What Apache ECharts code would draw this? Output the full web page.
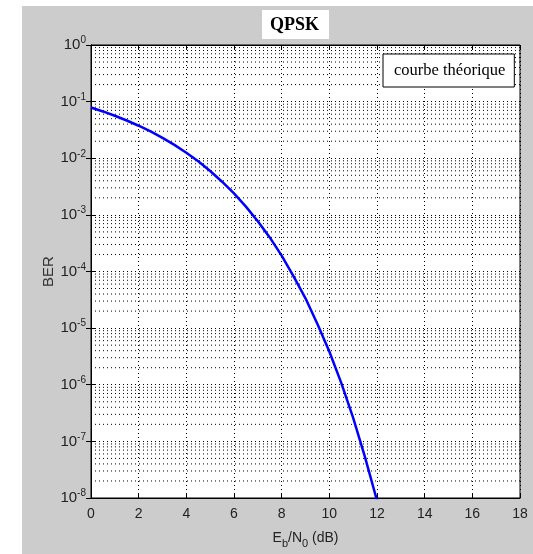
<!DOCTYPE html>
<html>
<head>
<meta charset="utf-8">
<script src="https://cdn.jsdelivr.net/npm/echarts@6/dist/echarts.min.js"></script>
<style>
	html, body { margin: 0; padding: 0; background: #fff; }
	#wrap { position: relative; width: 533px; height: 554px; }
	#back { position: absolute; left: 22px; top: 6px; right: 0; bottom: 0; background: #cccccc; }
	#chart { position: absolute; left: 0; top: 0; width: 533px; height: 554px; }
</style>
</head>
<body>
<div id="wrap">
	<div id="back"></div>
	<div id="chart"></div>
</div>
<script>
// Eb/N0 (dB)
const snrDb = [0, 0.5, 1, 1.5, 2, 2.5, 3, 3.5, 4, 4.5, 5, 5.5, 6, 6.5, 7, 7.5, 8, 8.5, 9, 9.5, 10, 10.5, 11, 11.5, 12];
const berTheory = [7.86e-2, 6.71e-2, 5.63e-2, 4.64e-2, 3.75e-2, 2.98e-2, 2.29e-2, 1.72e-2, 1.25e-2, 8.85e-3,
	5.95e-3, 3.85e-3, 2.39e-3, 1.40e-3, 7.73e-4, 4.00e-4, 1.91e-4, 8.2e-5, 3.36e-5, 1.18e-5,
	3.87e-6, 1.08e-6, 2.61e-7, 5.2e-8, 9.0e-9];
const xTicks = [0, 2, 4, 6, 8, 10, 12, 14, 16, 18];
const yDecades = [0, -1, -2, -3, -4, -5, -6, -7, -8];
const minorSteps = [2, 3, 4, 5, 6, 7, 8, 9];

const legendName = 'courbe théorique';

const xMin = xTicks[0];
const xMax = xTicks[xTicks.length - 1];

// lignes mineures de la grille log (2..9 par décade), coupées par des trous
let minorLines = [];
yDecades.slice(1).forEach(e => {
	minorSteps.forEach(m => {
		let v = m * Math.pow(10, e);
		minorLines.push([xMin, v], [xMax, v], [xMax, '-']);
	});
});

const dots = { type: [1, 3], color: '#000', width: 1 };
const sans = 'Liberation Sans';

const chart = echarts.init(document.getElementById('chart'));

chart.setOption({
	animation: false,
	backgroundColor: 'transparent',
	title: {
		text: 'QPSK',
		left: 262,
		top: 10,
		backgroundColor: '#fff',
		padding: [6, 10, 5, 8],
		textStyle: { fontFamily: 'Liberation Serif', fontWeight: 'bold', fontSize: 18, color: '#000' }
	},
	legend: {
		data: [{ name: legendName, icon: 'none' }],
		left: 383,
		top: 54,
		itemWidth: 0,
		itemGap: 0,
		padding: [8, 9, 8, 6],
		backgroundColor: '#fff',
		borderColor: '#000',
		borderWidth: 1,
		textStyle: { fontFamily: 'Liberation Serif', fontSize: 16.5, color: '#000' },
		selectedMode: false
	},
	grid: {
		left: 91, top: 45, right: 13, bottom: 52,
		show: true,
		backgroundColor: '#fff',
		borderColor: '#000',
		borderWidth: 1
	},
	xAxis: [
		{
			type: 'value',
			min: xMin,
			max: xMax,
			interval: 2,
			name: 'E{sub|b}/N{sub|0} (dB)',
			nameLocation: 'middle',
			nameGap: 30,
			nameTextStyle: {
				fontFamily: sans, fontSize: 14, color: '#222',
				rich: { sub: { fontFamily: sans, fontSize: 11, color: '#222', verticalAlign: 'bottom', padding: [10, 0, 0, 0] } }
			},
			axisLine: { lineStyle: { color: '#000' } },
			axisTick: { inside: true, length: 5, lineStyle: { color: '#000' } },
			axisLabel: { fontFamily: sans, fontSize: 14, color: '#222', margin: 9 },
			splitLine: { show: true, lineStyle: dots }
		},
		{
			type: 'value',
			position: 'top',
			min: xMin,
			max: xMax,
			interval: 2,
			axisLine: { lineStyle: { color: '#000' } },
			axisTick: { inside: true, length: 5, lineStyle: { color: '#000' } },
			axisLabel: { show: false },
			splitLine: { show: false }
		}
	],
	yAxis: [
		{
			type: 'log',
			logBase: 10,
			min: 1e-8,
			max: 1,
			name: 'BER',
			nameLocation: 'middle',
			nameRotate: 90,
			nameGap: 35,
			nameMoveOverlap: false,
			nameTextStyle: { fontFamily: sans, fontSize: 15, color: '#333' },
			axisLine: { lineStyle: { color: '#000' } },
			axisTick: { inside: true, length: 5, lineStyle: { color: '#000' } },
			axisLabel: {
				fontFamily: sans, fontSize: 15, color: '#222', margin: 5,
				formatter: function (v) {
					return '10{sup|' + Math.round(Math.log10(v)) + '}';
				},
				rich: { sup: { fontFamily: sans, fontSize: 10, color: '#222', verticalAlign: 'top', padding: [0, 0, 9, 0] } }
			},
			splitLine: { show: true, lineStyle: dots }
		},
		{
			type: 'log',
			logBase: 10,
			min: 1e-8,
			max: 1,
			position: 'right',
			axisLine: { lineStyle: { color: '#000' } },
			axisTick: { inside: true, length: 5, lineStyle: { color: '#000' } },
			axisLabel: { show: false },
			splitLine: { show: false }
		}
	],
	series: [
		{
			name: 'grille',
			type: 'line',
			z: 1,
			silent: true,
			symbol: 'none',
			connectNulls: false,
			lineStyle: dots,
			data: minorLines
		},
		{
			name: legendName,
			type: 'line',
			z: 5,
			symbol: 'none',
			lineStyle: { color: '#0000ff', width: 2.5 },
			itemStyle: { color: '#0000ff' },
			data: snrDb.map((x, i) => [x, berTheory[i]])
		}
	]
});
</script>
</body>
</html>
